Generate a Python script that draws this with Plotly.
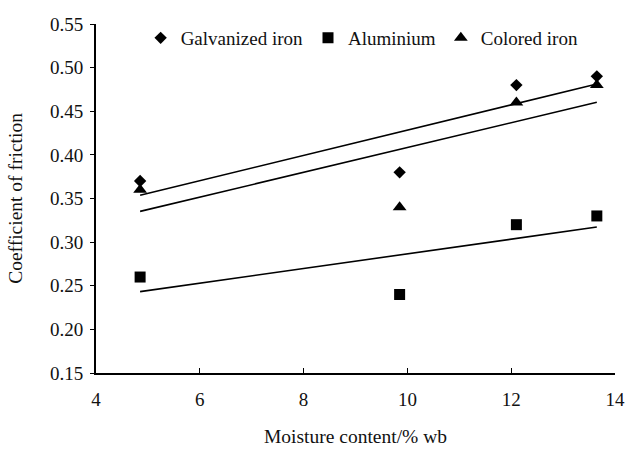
import numpy as np
import plotly.graph_objects as go

moisture = [4.85, 9.85, 12.1, 13.65]
galvanized = [0.37, 0.38, 0.48, 0.49]
aluminium = [0.26, 0.24, 0.32, 0.33]
colored = [0.36, 0.34, 0.46, 0.48]

series = [
    ("Galvanized iron", galvanized, "diamond", 9.5),
    ("Aluminium", aluminium, "square", 11),
    ("Colored iron", colored, "triangle-up", 12),
]

fig = go.Figure()
x = np.array(moisture)
for name, vals, sym, sz in series:
    slope, icpt = np.polyfit(x, np.array(vals), 1)
    xs = np.array([x.min(), x.max()])
    fig.add_trace(go.Scatter(x=xs, y=slope * xs + icpt, mode="lines",
                             line=dict(color="black", width=1.6),
                             showlegend=False, hoverinfo="skip"))
for name, vals, sym, sz in series:
    fig.add_trace(go.Scatter(x=moisture, y=vals, mode="markers", name=name,
                             marker=dict(symbol=sym, size=sz, color="black")))

font = "Liberation Serif, Times New Roman, serif"
fig.update_layout(
    width=627, height=451,
    margin=dict(l=96, r=12, t=24, b=78, autoexpand=False),
    plot_bgcolor="white", paper_bgcolor="white",
    font=dict(family=font, size=19, color="#111"),
    showlegend=True,
    legend=dict(orientation="h", x=0.086, y=0.96, xanchor="left", yanchor="middle",
                font=dict(family=font, size=19, color="#111"),
                bgcolor="rgba(0,0,0,0)", itemwidth=30, tracegroupgap=0),
    xaxis=dict(range=[4, 14], tickvals=[4, 6, 8, 10, 12, 14], showline=True,
               linecolor="black", linewidth=1.8, ticks="inside", ticklen=5,
               tickcolor="black", showgrid=False, zeroline=False, ticklabelstandoff=8,
               automargin=False,
               title=dict(text="Moisture content/% wb", font=dict(size=19.5), standoff=21)),
    yaxis=dict(range=[0.15, 0.55], tickvals=[0.15, 0.2, 0.25, 0.3, 0.35, 0.4, 0.45, 0.5, 0.55],
               tickformat=".2f", showline=True, linecolor="black", linewidth=1.8,
               ticks="outside", ticklen=4, tickcolor="black", showgrid=False, zeroline=False,
               ticklabelstandoff=3, automargin=False,
               title=dict(text="Coefficient of friction", font=dict(size=19.5), standoff=22)),
)

fig.write_html("out.html")
